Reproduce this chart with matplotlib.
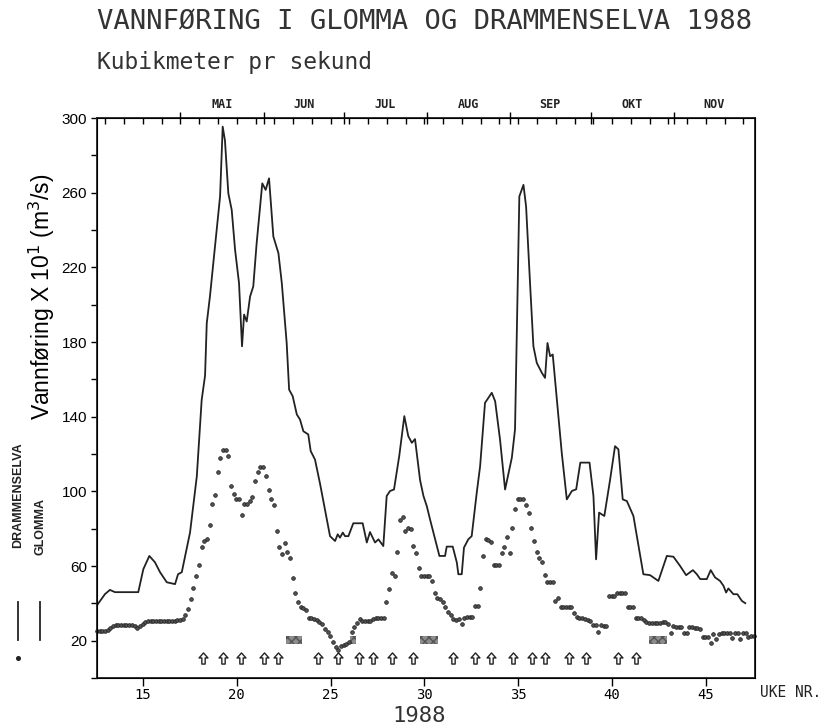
import matplotlib
matplotlib.use("Agg")
import matplotlib.pyplot as plt
from matplotlib.lines import Line2D
from matplotlib.path import Path
import numpy as np

# Glomma: traced vertices (week number, flow x10 m3/s)
glomma_week = [12.53, 12.98, 13.24, 13.51, 14.75, 15.02, 15.34, 15.64, 15.91, 16.27, 16.71, 16.87, 17.07,
               17.51, 17.87, 18.13, 18.31, 18.40, 18.57, 18.89, 19.11, 19.25, 19.37, 19.55, 19.73, 19.91,
               20.12, 20.28, 20.39, 20.53, 20.71, 20.88, 21.06, 21.36, 21.54, 21.72, 21.95, 22.22, 22.40,
               22.66, 22.79, 22.98, 23.20, 23.37, 23.55, 23.81, 23.94, 24.17, 24.44, 24.80, 24.97, 25.24,
               25.38, 25.50, 25.65, 25.77, 25.95, 26.21, 26.71, 26.93, 27.10, 27.37, 27.55, 27.81, 27.99,
               28.17, 28.38, 28.66, 28.93, 29.14, 29.33, 29.50, 29.77, 29.95, 30.13, 30.30, 30.48, 30.80,
               31.10, 31.19, 31.51, 31.73, 31.81, 31.99, 32.11, 32.34, 32.52, 32.79, 32.97, 33.23, 33.59,
               33.77, 34.03, 34.30, 34.66, 34.83, 35.06, 35.28, 35.42, 35.63, 35.81, 35.99, 36.26, 36.43,
               36.56, 36.70, 36.84, 37.06, 37.32, 37.59, 37.86, 38.09, 38.31, 38.80, 39.01, 39.15, 39.31,
               39.45, 39.59, 39.90, 40.16, 40.34, 40.57, 40.79, 41.14, 41.35, 41.67, 42.03, 42.47, 42.74,
               42.92, 43.27, 43.63, 43.95, 44.31, 44.52, 44.70, 45.05, 45.26, 45.49, 45.76, 45.94, 46.08,
               46.20, 46.47, 46.68, 46.92, 47.10]
glomma_flow = [38.7, 45, 47.2, 46, 46, 58.3, 65.4, 62, 56.7, 51.3, 50.3, 55.6, 56.7,
               78, 108, 149, 162, 190, 204.4, 236.5, 258, 295.4, 288, 259.7, 250.8, 229.4,
               211.6, 177.7, 194.7, 191, 204.4, 209.8, 233, 265, 261.5, 267.7, 236.5, 227.6, 211.6,
               179.5, 154.5, 151, 141.2, 138.5, 132.2, 130.5, 121.6, 117, 104, 85, 76, 73.4,
               77, 75.2, 77.9, 76, 76, 82.9, 82.9, 72.6, 78.2, 72.6, 74.3, 70.7, 97.5,
               100.2, 101, 119, 140.3, 129.6, 126, 128, 106, 97.5, 92, 85, 78, 65.4,
               65.4, 70.4, 70.4, 61.8, 55.6, 55.6, 69.9, 74.3, 76, 99.3, 113.5, 147.4, 152.8,
               148.3, 127.8, 101, 118, 133.2, 258, 264.2, 252.6, 211.6, 177.7, 168.8, 163.5, 160.8,
               179.5, 172.4, 173.3, 149.2, 120.7, 95.7, 100.2, 101.1, 115.4, 115.4, 97.5, 63.6, 88.6,
               87.7, 86.8, 106.4, 124.2, 122.5, 95.7, 94.8, 86.8, 74.3, 55.6, 55.1, 52.0, 60,
               65.4, 65, 60, 55.1, 57.8, 55.6, 53, 53, 57.8, 53.9, 52, 49.4, 45.8,
               48, 44.9, 44.9, 41.3, 40.1]

# Drammenselva: daily values starting at week 12.55
drammen_start = 12.55
drammen_flow = [25, 25, 25, 25, 25.8, 26.8, 27.7, 28.3, 28.5, 28.5, 28.5, 28.5, 28.5, 28.5, 28, 26.6,
                27.8, 29, 30, 30.6, 30.6, 30.6, 30.6, 30.6, 30.8, 30.8, 30.3, 30.3, 30.3, 30.3, 31.2, 31.2,
                31.6, 33.7, 36.9, 42.6, 48.1, 54.4, 60.4, 70.4, 73.4, 74.3, 82, 93, 98, 110.5, 118, 122,
                122, 118.9, 102.8, 98.4, 96, 95.7, 87.3, 93, 93, 94.8, 97.2, 105.5, 110.5, 113, 113,
                108.2, 100.5, 95.7, 92.9, 78.6, 70.4, 66.3, 72.6, 67.6, 64.5, 53.5, 45.5, 40.5, 38.3,
                37.3, 36.6, 32.4, 32.1, 31.6, 31, 30.1, 28.9, 26.2, 24.4, 22.3, 19.5, 16.4, 15.2, 17.3,
                17.7, 18.2, 19.4, 24.4, 27.1, 29.4, 31.6, 30.7, 30.7, 30.7, 30.7, 31.6, 32.4, 32.4,
                32.4, 32.4, 40.8, 47.6, 56.5, 54.7, 67.6, 84.7, 86, 78.6, 80.6, 79.7, 70.7, 66.8, 58.8,
                54.7, 54.7, 54.7, 54.7, 52, 45.8, 42.8, 42.2, 40.8, 37.8, 35.5, 33.7, 31.6, 31.2, 31.6,
                28.9, 32.1, 32.8, 32.8, 32.8, 38.7, 38.7, 48, 65.4, 74.3, 74, 73.1, 60.4, 60.4, 60.4,
                66.8, 70.4, 75.8, 66.8, 80.6, 90.4, 95.7, 95.7, 95.7, 92.5, 88.2, 80.4, 73.4, 67.7,
                64.5, 62.4, 55.2, 51.7, 51.7, 51.7, 41, 42.8, 38.3, 38.3, 38.3, 38.3, 38.3, 35, 32.8,
                32.4, 31.9, 31.6, 31.2, 30.3, 28.5, 28.5, 24.4, 28.3, 28, 28, 43.7, 43.7, 44, 45.3,
                45.3, 45.3, 45.3, 37.8, 37.8, 37.8, 32.4, 32.4, 31.9, 31.2, 30.1, 29.4, 29.4, 29.4,
                29.4, 29.4, 29.8, 30.1, 28.9, 23.9, 28, 27.4, 27.1, 27.1, 24.1, 24.1, 27.4, 27.1, 26.7,
                26.6, 26.2, 22.1, 22.1, 22.1, 18.7, 23.5, 20.9, 23.5, 23.9, 23.9, 23.9, 23.9, 21.7,
                23.9, 23.9, 20.9, 23.9, 23.9, 22.1, 22.6, 22.6]

# arrow markers (weeks) and shaded blocks (start/end weeks)
arrow_weeks = [18.19, 19.29, 20.24, 21.45, 22.18, 24.35, 25.37, 26.53, 27.26, 28.26, 29.37,
               31.52, 32.68, 33.55, 34.71, 35.72, 36.43, 37.73, 38.62, 40.31, 41.29]
block_start = [22.65, 26.01, 29.74, 41.98]
block_end = [23.50, 26.38, 30.70, 42.94]

months = ["MAI", "JUN", "JUL", "AUG", "SEP", "OKT", "NOV"]
month_start_doy = [122, 153, 183, 214, 245, 275, 306, 336]

mono = "DejaVu Sans Mono"
ink = "#222222"

fig = plt.figure(figsize=(8.25, 7.25), dpi=100)
ax = fig.add_axes([0.1171, 0.0648, 0.7976, 0.7724])

ax.plot(glomma_week, glomma_flow, color=ink, lw=1.3)
dx = drammen_start + np.arange(len(drammen_flow)) / 7.0
ax.plot(dx, drammen_flow, ls="none", marker="o", ms=2.6, mfc="#555555", mec=ink, mew=0.6, clip_on=False)

arrow = Path([(0, 1), (-0.8, 0.1), (-0.3, 0.1), (-0.3, -1), (0.3, -1), (0.3, 0.1), (0.8, 0.1), (0, 1)],
             [Path.MOVETO] + [Path.LINETO] * 6 + [Path.CLOSEPOLY])
ax.plot(arrow_weeks, [10.7] * len(arrow_weeks), ls="none", marker=arrow, ms=8,
        mfc="white", mec=ink, mew=1.0)

widths = [e - s for s, e in zip(block_start, block_end)]
ax.bar(block_start, 4.3, width=widths, bottom=18.2, align="edge", color="#8c8c8c",
       edgecolor="#555555", hatch="xxxx", linewidth=0)

ax.set_xlim(12.53, 47.6)
ax.set_ylim(0, 300)

# bottom axis: week numbers
ax.set_xticks([15, 20, 25, 30, 35, 40, 45])
ax.tick_params(axis="x", direction="out", length=6, width=1, pad=1.5, labelsize=10)
for lab in ax.get_xticklabels():
    lab.set_family(mono)
# left axis
ax.set_yticks(np.arange(20, 301, 40))
ax.set_yticks(np.arange(0, 301, 20), minor=True)
ax.tick_params(axis="y", which="both", direction="out", length=4, width=1, labelsize=11, pad=3)
for lab in ax.get_yticklabels():
    lab.set_family("Liberation Sans")
for s in ax.spines.values():
    s.set_linewidth(1.3)
    s.set_color(ink)

# top axis: weeks and month boundaries
top = ax.twiny()
top.set_xlim(ax.get_xlim())
bounds = [(d - 3) / 7.0 for d in month_start_doy]
top.set_xticks(bounds[:-1])
top.set_xticklabels([])
top.set_xticks(np.arange(13, 48), minor=True)
top.tick_params(axis="x", which="major", direction="inout", length=9, width=1)
top.tick_params(axis="x", which="minor", direction="in", length=4, width=1)
for m, a, b in zip(months, bounds[:-1], bounds[1:]):
    ax.text((a + b) / 2, 1.013, m, transform=ax.get_xaxis_transform(), ha="center", va="bottom",
            fontsize=8.5, family=mono, fontweight="bold", color=ink)

ax.set_ylabel("Vannføring X 10$^1$ (m$^3$/s)", fontsize=16.5, family="Liberation Sans")
ax.yaxis.set_label_coords(-0.06, 0.68)
ax.text(1.008, -0.012, "UKE NR.", transform=ax.transAxes, ha="left", va="top",
        fontsize=10.5, family=mono, color=ink)
ax.text(0.49, -0.068, "1988", transform=ax.transAxes, ha="center", va="center",
        fontsize=16, family=mono, color="#333333")

fig.text(0.117, 0.9697, "VANNFØRING I GLOMMA OG DRAMMENSELVA 1988", ha="left", va="center",
         fontsize=19.6, family=mono, color="#333333")
fig.text(0.117, 0.914, "Kubikmeter pr sekund", ha="left", va="center",
         fontsize=16.5, family=mono, color="#333333")

# legend at left edge (figure pixel positions)
W, H = 825.0, 725.0
fig.text(18 / W, 1 - 548 / H, "DRAMMENSELVA", rotation=90, ha="center", va="bottom",
         fontsize=9, family="Liberation Sans", fontweight="bold", color=ink)
fig.text(40 / W, 1 - 555 / H, "GLOMMA", rotation=90, ha="center", va="bottom",
         fontsize=9, family="Liberation Sans", fontweight="bold", color=ink)
for x in (18, 40):
    fig.add_artist(Line2D([x / W, x / W], [1 - 602 / H, 1 - 640 / H], color=ink, lw=1.3,
                          transform=fig.transFigure))
fig.add_artist(Line2D([18 / W], [1 - 658 / H], marker="o", ms=2.6, color=ink, transform=fig.transFigure))

fig.savefig("out.png", dpi=100, facecolor="white")
